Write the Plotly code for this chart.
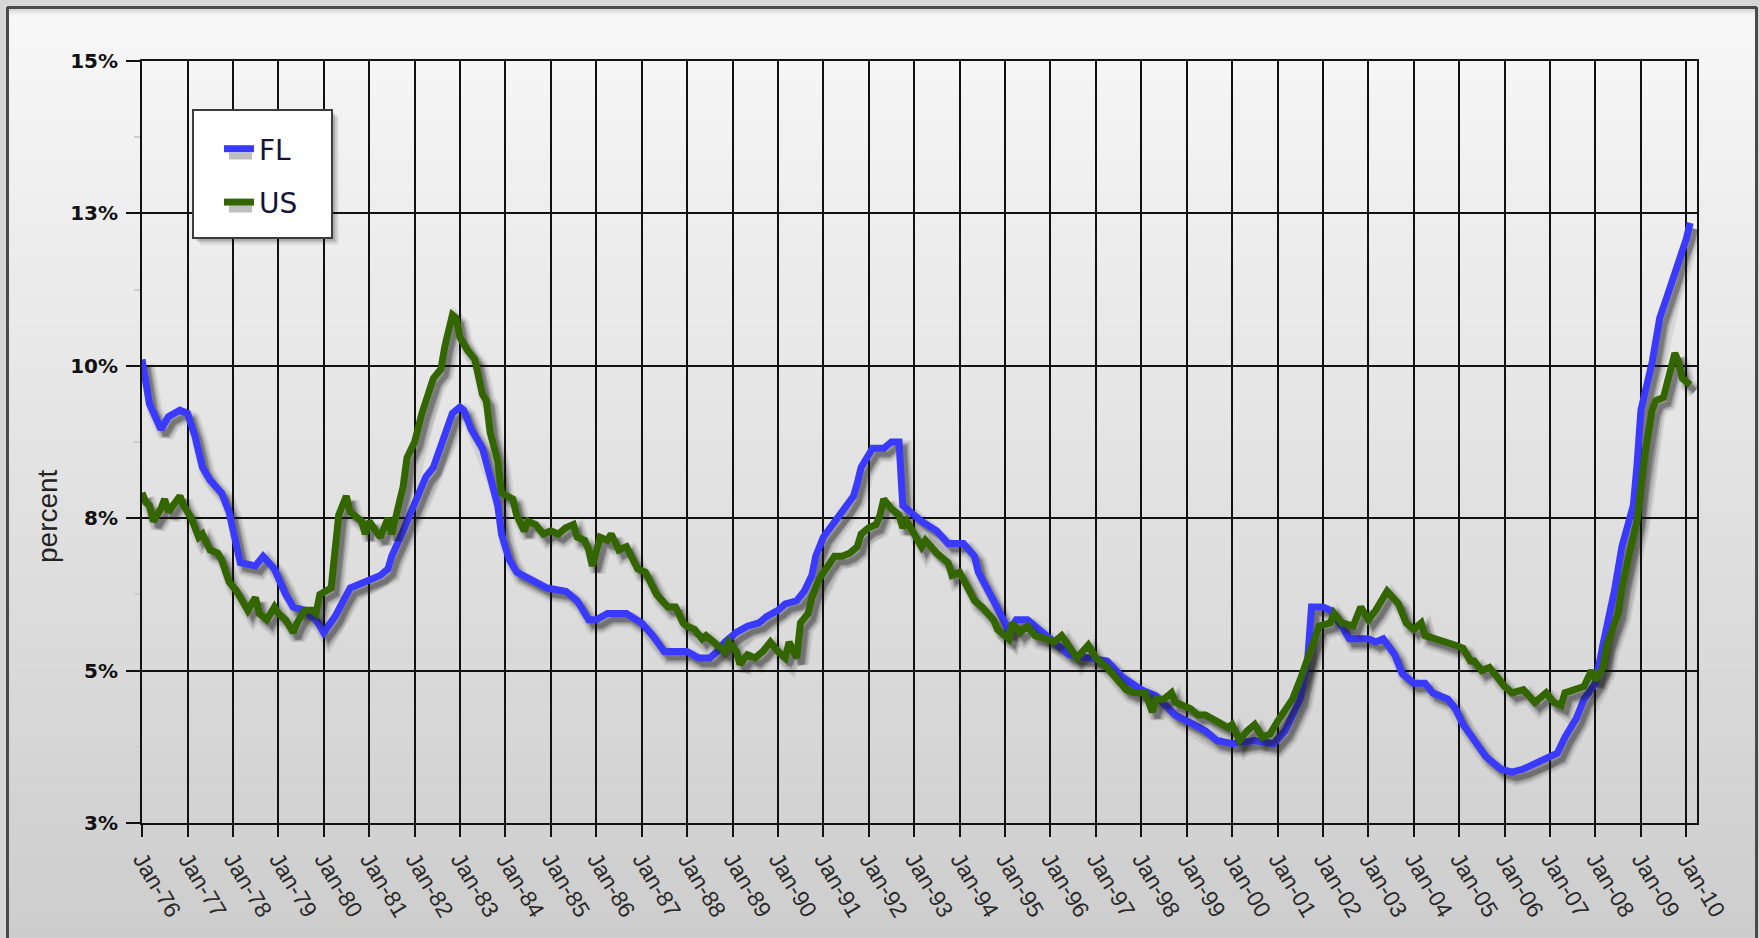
import pandas as pd
import plotly.graph_objects as go

# ---------------------------------------------------------------------------
# Unemployment rate, Florida vs. United States (percent)
# ---------------------------------------------------------------------------
fl_month = [
    "1976-01", "1976-02", "1976-03", "1976-06", "1976-08", "1976-11", "1977-01", "1977-03",
    "1977-05", "1977-07", "1977-10", "1977-12", "1978-02", "1978-03", "1978-07", "1978-09",
    "1978-12", "1979-03", "1979-05", "1979-08", "1979-11", "1980-01", "1980-04", "1980-06",
    "1980-08", "1980-12", "1981-04", "1981-06", "1981-07", "1981-10", "1982-01", "1982-03",
    "1982-04", "1982-06", "1982-09", "1982-11", "1983-01", "1983-02", "1983-04", "1983-07",
    "1983-09", "1983-11", "1983-12", "1984-02", "1984-04", "1984-07", "1984-12", "1985-05",
    "1985-08", "1985-11", "1986-01", "1986-04", "1986-09", "1987-01", "1987-04", "1987-07",
    "1988-01", "1988-04", "1988-07", "1988-09", "1988-11", "1989-02", "1989-05", "1989-08",
    "1989-10", "1990-01", "1990-03", "1990-06", "1990-08", "1990-10", "1990-11", "1991-01",
    "1991-03", "1991-05", "1991-07", "1991-09", "1991-10", "1991-11", "1992-01", "1992-02",
    "1992-05", "1992-07", "1992-09", "1992-10", "1992-12", "1993-03", "1993-07", "1993-10",
    "1994-02", "1994-05", "1994-06", "1994-08", "1994-10", "1995-01", "1995-02", "1995-04",
    "1995-07", "1995-10", "1996-03", "1996-06", "1996-11", "1997-04", "1997-08", "1998-01",
    "1998-05", "1998-10", "1999-03", "1999-06", "1999-09", "2000-01", "2000-07", "2000-12",
    "2001-03", "2001-05", "2001-07", "2001-09", "2001-10", "2002-01", "2002-03", "2002-06",
    "2002-08", "2003-01", "2003-03", "2003-05", "2003-08", "2003-10", "2004-01", "2004-04",
    "2004-06", "2004-10", "2004-12", "2005-02", "2005-05", "2005-08", "2005-12", "2006-03",
    "2006-06", "2006-10", "2006-12", "2007-03", "2007-05", "2007-08", "2007-10", "2008-01",
    "2008-03", "2008-06", "2008-08", "2008-11", "2008-12", "2009-01", "2009-04", "2009-06",
    "2009-08", "2009-10", "2009-11", "2010-01", "2010-02",
]
fl_rate = [
    10.3, 9.9, 9.6, 9.2, 9.4, 9.5, 9.45, 9.1,
    8.6, 8.4, 8.2, 7.9, 7.35, 7.1, 7.05, 7.2,
    7.0, 6.6, 6.4, 6.35, 6.2, 6.0, 6.25, 6.5,
    6.7, 6.8, 6.9, 7.0, 7.2, 7.6, 8.0, 8.3,
    8.45, 8.6, 9.1, 9.45, 9.55, 9.5, 9.2, 8.9,
    8.45, 8.0, 7.55, 7.15, 6.95, 6.85, 6.7, 6.65,
    6.5, 6.2, 6.2, 6.3, 6.3, 6.15, 5.95, 5.7,
    5.7, 5.6, 5.6, 5.7, 5.85, 6.0, 6.1, 6.15,
    6.25, 6.35, 6.45, 6.5, 6.65, 6.9, 7.2, 7.5,
    7.65, 7.8, 7.95, 8.15, 8.35, 8.6, 8.8, 8.9,
    8.9, 9.0, 9.0, 8.0, 7.9, 7.75, 7.6, 7.4,
    7.4, 7.2, 6.95, 6.7, 6.5, 6.15, 6.0, 6.2,
    6.2, 6.05, 5.8, 5.65, 5.6, 5.55, 5.3, 5.1,
    5.0, 4.7, 4.55, 4.45, 4.3, 4.25, 4.3, 4.25,
    4.45, 4.7, 4.95, 5.6, 6.4, 6.4, 6.35, 6.1,
    5.9, 5.9, 5.85, 5.9, 5.65, 5.35, 5.2, 5.2,
    5.05, 4.95, 4.8, 4.55, 4.3, 4.05, 3.85, 3.8,
    3.85, 3.95, 4.0, 4.1, 4.35, 4.65, 4.95, 5.2,
    5.8, 6.65, 7.35, 8.0, 8.65, 9.5, 10.25, 10.95,
    11.3, 11.65, 11.9, 12.2, 12.45,
]

us_month = [
    "1976-01", "1976-02", "1976-03", "1976-04", "1976-06", "1976-07", "1976-08", "1976-10",
    "1976-11", "1976-12", "1977-02", "1977-04", "1977-05", "1977-07", "1977-09", "1977-10",
    "1977-12", "1978-02", "1978-04", "1978-05", "1978-07", "1978-08", "1978-10", "1978-12",
    "1979-01", "1979-03", "1979-05", "1979-06", "1979-08", "1979-10", "1979-11", "1979-12",
    "1980-03", "1980-04", "1980-05", "1980-07", "1980-08", "1980-11", "1980-12", "1981-01",
    "1981-03", "1981-04", "1981-06", "1981-07", "1981-08", "1981-10", "1981-11", "1982-01",
    "1982-03", "1982-04", "1982-06", "1982-08", "1982-09", "1982-11", "1982-12", "1983-01",
    "1983-03", "1983-05", "1983-07", "1983-08", "1983-09", "1983-11", "1983-12", "1984-03",
    "1984-04", "1984-06", "1984-07", "1984-09", "1984-11", "1985-01", "1985-03", "1985-05",
    "1985-07", "1985-08", "1985-10", "1985-11", "1985-12", "1986-02", "1986-04", "1986-05",
    "1986-07", "1986-09", "1986-12", "1987-02", "1987-05", "1987-08", "1987-10", "1987-12",
    "1988-01", "1988-03", "1988-05", "1988-06", "1988-07", "1988-09", "1988-11", "1988-12",
    "1989-02", "1989-03", "1989-05", "1989-07", "1989-09", "1989-11", "1990-01", "1990-03",
    "1990-04", "1990-06", "1990-07", "1990-09", "1990-10", "1990-12", "1991-02", "1991-04",
    "1991-06", "1991-08", "1991-10", "1991-11", "1992-01", "1992-03", "1992-04", "1992-05",
    "1992-07", "1992-09", "1992-10", "1992-11", "1993-01", "1993-03", "1993-04", "1993-07",
    "1993-10", "1993-11", "1994-01", "1994-03", "1994-05", "1994-07", "1994-10", "1994-11",
    "1995-01", "1995-02", "1995-03", "1995-05", "1995-07", "1995-09", "1995-12", "1996-02",
    "1996-04", "1996-06", "1996-08", "1996-11", "1997-01", "1997-04", "1997-06", "1997-09",
    "1997-11", "1998-02", "1998-04", "1998-05", "1998-07", "1998-09", "1998-10", "1998-12",
    "1999-02", "1999-04", "1999-06", "1999-09", "1999-12", "2000-01", "2000-03", "2000-05",
    "2000-07", "2000-09", "2000-11", "2001-01", "2001-04", "2001-05", "2001-07", "2001-10",
    "2001-12", "2002-03", "2002-04", "2002-06", "2002-09", "2002-11", "2003-01", "2003-03",
    "2003-06", "2003-09", "2003-11", "2004-01", "2004-03", "2004-04", "2004-07", "2004-09",
    "2004-12", "2005-02", "2005-04", "2005-05", "2005-07", "2005-09", "2005-11", "2006-01",
    "2006-03", "2006-06", "2006-09", "2006-12", "2007-02", "2007-04", "2007-05", "2007-08",
    "2007-10", "2007-12", "2008-01", "2008-03", "2008-04", "2008-07", "2008-08", "2008-10",
    "2008-12", "2009-01", "2009-02", "2009-04", "2009-05", "2009-07", "2009-08", "2009-10",
    "2009-11", "2009-12", "2010-02",
]
us_rate = [
    8.2, 8.05, 8.0, 7.75, 7.95, 8.1, 7.9, 8.1,
    8.15, 8.0, 7.8, 7.5, 7.55, 7.3, 7.25, 7.15,
    6.8, 6.65, 6.45, 6.35, 6.55, 6.3, 6.2, 6.4,
    6.3, 6.2, 6.0, 6.15, 6.35, 6.35, 6.3, 6.6,
    6.7, 7.3, 7.85, 8.15, 7.9, 7.75, 7.55, 7.75,
    7.6, 7.5, 7.8, 7.55, 7.8, 8.3, 8.75, 9.0,
    9.45, 9.65, 10.0, 10.15, 10.5, 11.0, 10.95, 10.65,
    10.45, 10.3, 9.75, 9.65, 9.15, 8.7, 8.2, 8.1,
    7.85, 7.6, 7.75, 7.7, 7.55, 7.6, 7.55, 7.65,
    7.7, 7.5, 7.45, 7.3, 7.05, 7.5, 7.45, 7.55,
    7.3, 7.35, 7.0, 6.95, 6.6, 6.4, 6.4, 6.15,
    6.1, 6.05, 5.9, 5.95, 5.9, 5.8, 5.7, 5.85,
    5.7, 5.5, 5.65, 5.6, 5.7, 5.85, 5.7, 5.6,
    5.85, 5.6, 6.15, 6.3, 6.55, 6.85, 7.05, 7.2,
    7.2, 7.25, 7.35, 7.55, 7.65, 7.7, 7.85, 8.1,
    7.95, 7.85, 7.65, 7.75, 7.55, 7.35, 7.45, 7.25,
    7.1, 6.9, 6.95, 6.75, 6.5, 6.4, 6.2, 6.05,
    5.95, 5.9, 6.15, 6.0, 6.1, 5.95, 5.9, 5.85,
    5.95, 5.75, 5.6, 5.8, 5.6, 5.45, 5.3, 5.1,
    5.05, 5.05, 4.75, 4.95, 4.95, 5.05, 4.9, 4.85,
    4.8, 4.7, 4.7, 4.6, 4.5, 4.55, 4.3, 4.45,
    4.55, 4.35, 4.4, 4.6, 4.85, 4.95, 5.25, 5.75,
    6.1, 6.15, 6.3, 6.15, 6.1, 6.4, 6.2, 6.35,
    6.65, 6.45, 6.15, 6.05, 6.15, 5.95, 5.9, 5.85,
    5.8, 5.75, 5.55, 5.55, 5.4, 5.45, 5.3, 5.15,
    5.05, 5.1, 4.9, 5.05, 4.9, 4.85, 5.05, 5.1,
    5.15, 5.4, 5.25, 5.45, 5.8, 6.3, 6.7, 7.25,
    7.75, 8.3, 8.8, 9.5, 9.65, 9.7, 9.95, 10.4,
    10.25, 10.0, 9.9,
]

series_names = ["FL", "US"]
series_colors = ["#3a3aff", "#336600"]
y_title = "percent"

# ---------------------------------------------------------------------------
# Canvas geometry
# ---------------------------------------------------------------------------
W, H = 1760, 938
M_L, M_R, M_T, M_B = 142, 63, 61, 115
PLOT_W = W - M_L - M_R
PLOT_H = H - M_T - M_B
X_START, X_END = pd.Timestamp("1976-01-01"), pd.Timestamp("2010-03-28")
Y_MIN, Y_MAX = 3, 15


def px_x(x):
    return (x - M_L) / PLOT_W


def px_y(y):
    return (H - M_B - y) / PLOT_H


DAYS_PER_PX = (X_END - X_START).days / PLOT_W
VAL_PER_PX = (Y_MAX - Y_MIN) / PLOT_H

# drop shadow: offset (px) and a few soft layers (width, alpha)
SHADOW_DX, SHADOW_DY = 5, 6
SHADOW_LAYERS = [(16, 0.08), (12, 0.13), (8, 0.22), (5, 0.25)]
LINE_WIDTH = 7

fig = go.Figure()

for name, color, months, rates in [
    (series_names[0], series_colors[0], fl_month, fl_rate),
    (series_names[1], series_colors[1], us_month, us_rate),
]:
    dates = pd.to_datetime(months)
    sh_x = dates + pd.Timedelta(days=SHADOW_DX * DAYS_PER_PX)
    sh_y = [v - SHADOW_DY * VAL_PER_PX for v in rates]
    for w, a in SHADOW_LAYERS:
        fig.add_trace(go.Scatter(
            x=sh_x, y=sh_y, mode="lines",
            line=dict(color=f"rgba(25,25,25,{a})", width=w),
            hoverinfo="skip", showlegend=False, legendgroup=name,
        ))
    fig.add_trace(go.Scatter(
        x=dates, y=rates, mode="lines", name=name, legendgroup=name,
        line=dict(color=color, width=LINE_WIDTH),
    ))

# ---------------------------------------------------------------------------
# Background: vertical grey gradient, outer frame, legend panel
# ---------------------------------------------------------------------------
shapes = []
GRAD_TOP, GRAD_BOTTOM = 248, 205
N_BANDS = 70
for i in range(N_BANDS):
    y0 = i * H / N_BANDS
    y1 = (i + 1) * H / N_BANDS
    f = ((y0 + y1) / 2) / H
    c = round(GRAD_TOP + (GRAD_BOTTOM - GRAD_TOP) * f)
    shapes.append(dict(
        type="rect", xref="paper", yref="paper", layer="below",
        x0=px_x(0), x1=px_x(W), y0=px_y(y1 + 1), y1=px_y(y0),
        fillcolor=f"rgb({c},{c},{c})", line_width=0,
    ))

# light strip outside the frame
for x0, x1, y0, y1 in [(0, W, 0, 6), (0, 6, 0, H), (1758, W, 0, H)]:
    shapes.append(dict(type="rect", xref="paper", yref="paper", layer="below",
                       x0=px_x(x0), x1=px_x(x1), y0=px_y(y1), y1=px_y(y0),
                       fillcolor="#d6d6d6", line_width=0))
# soft shadow under the top frame edge
for k, a in enumerate([0.12, 0.07, 0.03]):
    shapes.append(dict(type="line", xref="paper", yref="paper", layer="below",
                       x0=px_x(8), x1=px_x(1756), y0=px_y(10 + 2 * k), y1=px_y(10 + 2 * k),
                       line=dict(color=f"rgba(0,0,0,{a})", width=2)))
# frame lines
for x0, y0, x1, y1 in [(7, 7.5, 1757, 7.5), (7.5, 7, 7.5, H), (1756.5, 7, 1756.5, H)]:
    shapes.append(dict(type="line", xref="paper", yref="paper", layer="below",
                       x0=px_x(x0), x1=px_x(x1), y0=px_y(y0), y1=px_y(y1),
                       line=dict(color="#4a4a4a", width=3)))

# legend panel with drop shadow
LEG_X0, LEG_Y0, LEG_X1, LEG_Y1 = 193, 110, 332, 238
for off, a in [(7, 0.06), (5, 0.10), (3, 0.14)]:
    shapes.append(dict(type="rect", xref="paper", yref="paper", layer="above",
                       x0=px_x(LEG_X0 + off), x1=px_x(LEG_X1 + off),
                       y0=px_y(LEG_Y1 + off), y1=px_y(LEG_Y0 + off),
                       fillcolor=f"rgba(0,0,0,{a})", line_width=0))
shapes.append(dict(type="rect", xref="paper", yref="paper", layer="above",
                   x0=px_x(LEG_X0), x1=px_x(LEG_X1), y0=px_y(LEG_Y1), y1=px_y(LEG_Y0),
                   fillcolor="#ffffff", line=dict(color="#3c3c3c", width=2)))
# shadows under the legend swatches
for yc in (150, 203):
    shapes.append(dict(type="line", xref="paper", yref="paper", layer="above",
                       x0=px_x(229), x1=px_x(252), y0=px_y(yc + 6), y1=px_y(yc + 6),
                       line=dict(color="rgba(0,0,0,0.25)", width=7)))

fig.update_layout(
    width=W, height=H,
    margin=dict(l=M_L, r=M_R, t=M_T, b=M_B, autoexpand=False),
    paper_bgcolor="#e4e4e4",
    plot_bgcolor="rgba(0,0,0,0)",
    shapes=shapes,
    showlegend=True,
    legend=dict(
        x=px_x(219), y=px_y(124), xanchor="left", yanchor="top",
        bgcolor="rgba(0,0,0,0)", borderwidth=0,
        font=dict(family="DejaVu Sans", size=28, color="#14143a"),
        tracegroupgap=14, itemwidth=30, traceorder="grouped",
    ),
    annotations=[dict(
        text=y_title, xref="paper", yref="paper", x=px_x(47), y=px_y(516),
        xanchor="center", yanchor="middle", textangle=-90, showarrow=False,
        font=dict(family="Liberation Sans, Arial", size=28, color="#222222"),
    )],
    xaxis=dict(
        type="date", range=[X_START, X_END],
        tick0="1976-01-01", dtick="M12", tickformat="%b-%y", tickangle=59,
        ticks="outside", ticklen=12, tickwidth=2, tickcolor="#111111",
        showgrid=True, gridcolor="#111111", gridwidth=2,
        showline=True, linecolor="#111111", linewidth=2, mirror=True,
        zeroline=False, ticklabelstandoff=0,
        tickfont=dict(family="Liberation Sans, Arial", size=23, color="#2a2a2a"),
    ),
    yaxis=dict(
        range=[Y_MIN, Y_MAX], tick0=Y_MIN, dtick=2.4,
        tickformat=".0f", ticksuffix="%",
        ticks="outside", ticklen=14, tickwidth=2, tickcolor="#111111",
        showgrid=True, gridcolor="#111111", gridwidth=2,
        showline=True, linecolor="#111111", linewidth=2, mirror=True,
        zeroline=False, ticklabelstandoff=4,
        tickfont=dict(family="DejaVu Sans", size=20, color="#111111", weight="bold"),
        minor=dict(tick0=Y_MIN, dtick=1.2, ticks="outside", ticklen=6,
                   tickwidth=2, tickcolor="#cdcdcd", showgrid=False),
    ),
)

fig.write_html("out.html")
